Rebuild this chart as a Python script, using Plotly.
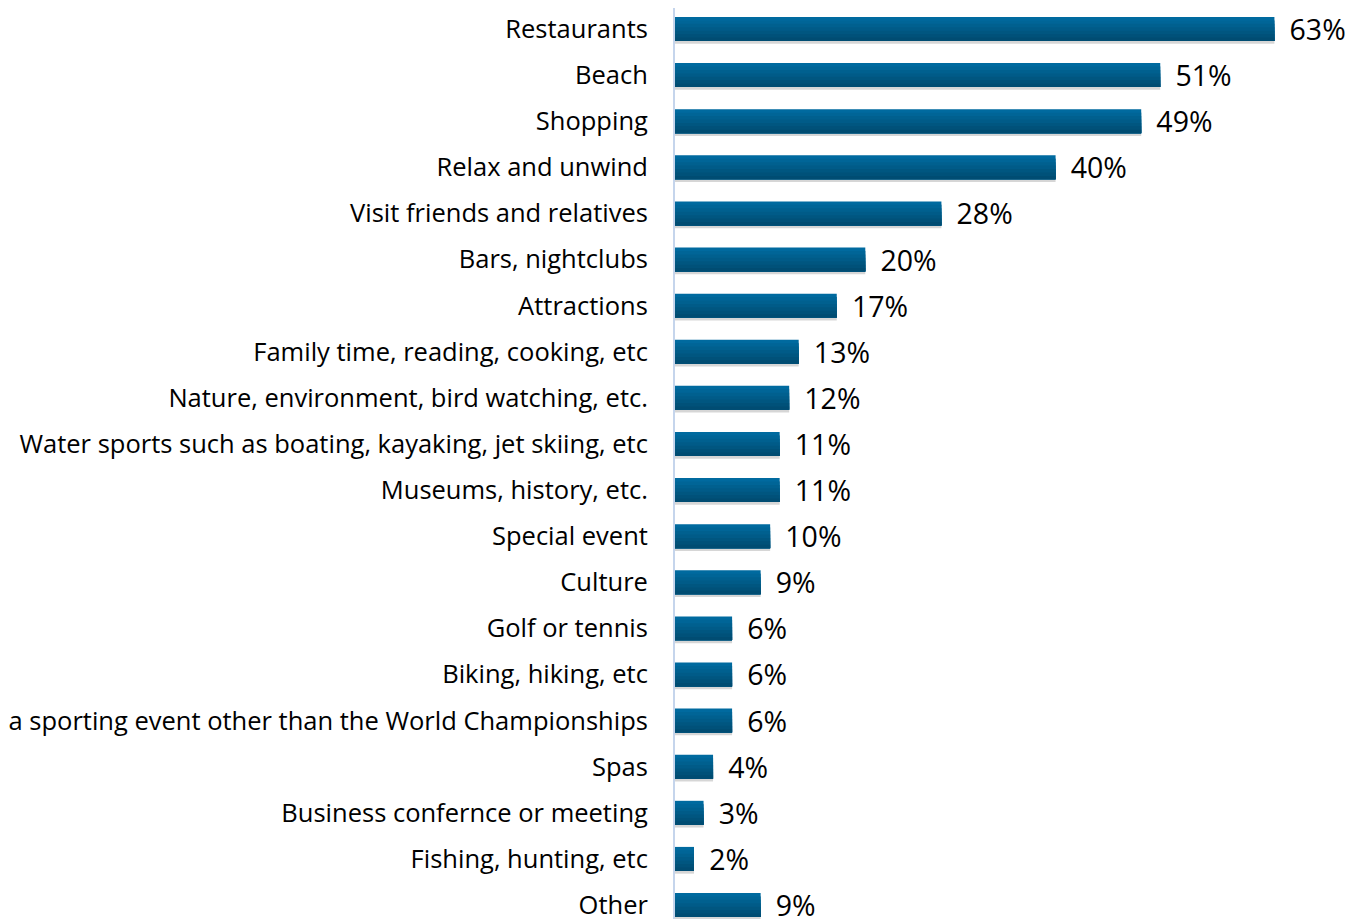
import plotly.graph_objects as go

categories = [
    "Restaurants", "Beach", "Shopping", "Relax and unwind",
    "Visit friends and relatives", "Bars, nightclubs", "Attractions",
    "Family time, reading, cooking, etc",
    "Nature, environment, bird watching, etc.",
    "Water sports such as boating, kayaking, jet skiing, etc",
    "Museums, history, etc.", "Special event", "Culture", "Golf or tennis",
    "Biking, hiking, etc",
    "a sporting event other than the World Championships",
    "Spas", "Business confernce or meeting", "Fishing, hunting, etc", "Other",
]
values = [63, 51, 49, 40, 28, 20, 17, 13, 12, 11, 11, 10, 9, 6, 6, 6, 4, 3, 2, 9]
value_labels = [f"{v}%" for v in values]

FONT = "Open Sans"
BAR_W = 0.52
band_colors = ["#006A9F", "#006597", "#00608F", "#005B88", "#005680", "#005179", "#004C72"]

fig = go.Figure()

# soft shadow
fig.add_trace(go.Bar(
    x=values, y=categories, orientation="h", width=BAR_W, offset=-BAR_W / 2 + 0.06,
    marker=dict(color="rgba(0,0,0,0.16)", line=dict(width=0)),
    hoverinfo="skip", showlegend=False,
))

n = len(band_colors)
h = BAR_W / n
for i, c in enumerate(band_colors):
    fig.add_trace(go.Bar(
        x=values, y=categories, orientation="h", width=BAR_W - i * h,
        offset=-BAR_W / 2 + i * h,
        marker=dict(color=c, line=dict(width=0)),
        hoverinfo="skip", showlegend=False,
    ))

# labels
fig.add_trace(go.Bar(
    x=values, y=categories, orientation="h", width=BAR_W,
    marker=dict(color="rgba(0,0,0,0)", line=dict(width=0)),
    text=value_labels, texttemplate=" \u2009%{text}", textposition="outside",
    constraintext="none",
    textfont=dict(family=FONT, size=28.5, color="#000000"),
    cliponaxis=False, hoverinfo="skip", showlegend=False,
))

fig.update_layout(
    width=1353, height=919,
    margin=dict(l=667, r=0, t=0, b=0, autoexpand=False),
    paper_bgcolor="white", plot_bgcolor="white",
    barmode="overlay", bargap=0.48,
    showlegend=False,
    font=dict(family=FONT, color="#000000"),
)
fig.update_xaxes(range=[0, 72.1], showgrid=False, zeroline=False,
                 showticklabels=False, showline=False, automargin=False)
fig.update_yaxes(range=[19.477, -0.4555], showgrid=False, zeroline=False,
                 showline=True, linecolor="#C5D5EC", linewidth=2,
                 ticks="", ticklabelstandoff=20, automargin=False,
                 tickfont=dict(family=FONT, size=25.5, color="#000000"))

fig.write_html("out.html")
